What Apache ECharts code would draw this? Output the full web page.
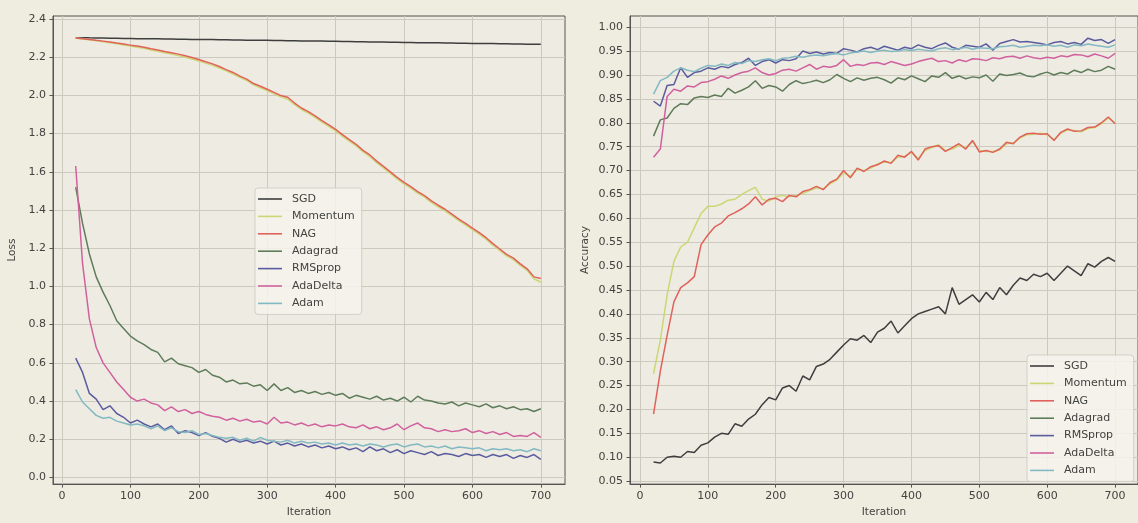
<!DOCTYPE html>
<html>
<head>
<meta charset="utf-8">
<script src="https://cdn.jsdelivr.net/npm/echarts@6/dist/echarts.min.js"></script>
<style>
  html, body { margin: 0; padding: 0; background: #efece0; }
  #chart { width: 1138px; height: 523px; }
</style>
</head>
<body>
<div id="chart"></div>
<script>
// Training iterations at which loss and accuracy were logged
const iterations = [
  20, 30, 40, 50, 60, 70, 80, 90, 100, 110,
  120, 130, 140, 150, 160, 170, 180, 190, 200, 210,
  220, 230, 240, 250, 260, 270, 280, 290, 300, 310,
  320, 330, 340, 350, 360, 370, 380, 390, 400, 410,
  420, 430, 440, 450, 460, 470, 480, 490, 500, 510,
  520, 530, 540, 550, 560, 570, 580, 590, 600, 610,
  620, 630, 640, 650, 660, 670, 680, 690, 700
];

const optimizers = ['SGD', 'Momentum', 'NAG', 'Adagrad', 'RMSprop', 'AdaDelta', 'Adam'];
const lineColors = ['#3e3e3e', '#cbd774', '#e0625a', '#5f7c5a', '#5a5c9e', '#d0619e', '#82b9c2'];

// ---- Loss ----
const lossSGD = [
  2.302, 2.301, 2.301, 2.300, 2.300, 2.299, 2.299, 2.298, 2.298, 2.297,
  2.297, 2.296, 2.296, 2.295, 2.295, 2.294, 2.294, 2.293, 2.293, 2.292,
  2.292, 2.291, 2.291, 2.290, 2.290, 2.289, 2.289, 2.288, 2.288, 2.287,
  2.287, 2.286, 2.286, 2.285, 2.285, 2.284, 2.284, 2.283, 2.283, 2.282,
  2.282, 2.281, 2.281, 2.280, 2.279, 2.279, 2.278, 2.278, 2.277, 2.277,
  2.276, 2.276, 2.275, 2.275, 2.274, 2.274, 2.273, 2.273, 2.272, 2.272,
  2.271, 2.271, 2.270, 2.270, 2.269, 2.269, 2.268, 2.268, 2.267
];
const lossMomentum = [
  2.300, 2.295, 2.291, 2.286, 2.281, 2.276, 2.270, 2.264, 2.258, 2.252,
  2.246, 2.238, 2.231, 2.223, 2.216, 2.208, 2.200, 2.190, 2.180, 2.169,
  2.157, 2.143, 2.128, 2.112, 2.094, 2.078, 2.055, 2.040, 2.025, 2.008,
  1.992, 1.980, 1.952, 1.926, 1.907, 1.885, 1.860, 1.838, 1.814, 1.787,
  1.760, 1.736, 1.705, 1.680, 1.648, 1.620, 1.592, 1.563, 1.537, 1.514,
  1.488, 1.467, 1.440, 1.417, 1.396, 1.370, 1.344, 1.322, 1.297, 1.274,
  1.247, 1.216, 1.188, 1.160, 1.140, 1.110, 1.084, 1.040, 1.022
];
const lossNAG = [
  2.300, 2.296, 2.293, 2.288, 2.284, 2.280, 2.274, 2.269, 2.263, 2.258,
  2.252, 2.244, 2.238, 2.230, 2.223, 2.216, 2.207, 2.198, 2.188, 2.176,
  2.165, 2.151, 2.135, 2.120, 2.101, 2.085, 2.062, 2.048, 2.032, 2.016,
  1.999, 1.990, 1.960, 1.934, 1.915, 1.893, 1.868, 1.846, 1.822, 1.795,
  1.768, 1.744, 1.712, 1.688, 1.656, 1.628, 1.600, 1.571, 1.545, 1.522,
  1.496, 1.475, 1.448, 1.425, 1.404, 1.378, 1.352, 1.330, 1.305, 1.282,
  1.255, 1.224, 1.196, 1.168, 1.148, 1.118, 1.092, 1.050, 1.042
];
const lossAdagrad = [
  1.520, 1.330, 1.170, 1.050, 0.970, 0.900, 0.820, 0.780, 0.740, 0.715,
  0.695, 0.670, 0.655, 0.605, 0.625, 0.595, 0.585, 0.575, 0.550, 0.565,
  0.535, 0.525, 0.500, 0.510, 0.490, 0.495, 0.478, 0.485, 0.455, 0.490,
  0.455, 0.470, 0.445, 0.455, 0.440, 0.450, 0.435, 0.445, 0.430, 0.440,
  0.415, 0.430, 0.420, 0.410, 0.425, 0.405, 0.415, 0.400, 0.420, 0.395,
  0.425, 0.405, 0.400, 0.390, 0.385, 0.395, 0.375, 0.390, 0.380, 0.370,
  0.385, 0.365, 0.375, 0.360, 0.370, 0.355, 0.360, 0.345, 0.360
];
const lossRMSprop = [
  0.625, 0.550, 0.440, 0.410, 0.355, 0.375, 0.335, 0.315, 0.285, 0.300,
  0.280, 0.265, 0.280, 0.250, 0.270, 0.230, 0.245, 0.235, 0.220, 0.235,
  0.215, 0.205, 0.185, 0.200, 0.185, 0.195, 0.180, 0.190, 0.175, 0.190,
  0.170, 0.180, 0.165, 0.175, 0.160, 0.170, 0.155, 0.165, 0.150, 0.160,
  0.145, 0.155, 0.135, 0.160, 0.140, 0.150, 0.130, 0.145, 0.125, 0.140,
  0.130, 0.120, 0.135, 0.115, 0.125, 0.120, 0.110, 0.125, 0.115, 0.120,
  0.105, 0.120, 0.110, 0.120, 0.100, 0.115, 0.105, 0.120, 0.095
];
const lossAdaDelta = [
  1.630, 1.120, 0.830, 0.680, 0.600, 0.550, 0.500, 0.460, 0.420, 0.400,
  0.410, 0.390, 0.380, 0.350, 0.370, 0.345, 0.355, 0.335, 0.345, 0.330,
  0.320, 0.315, 0.300, 0.310, 0.295, 0.305, 0.290, 0.295, 0.280, 0.315,
  0.285, 0.290, 0.275, 0.285, 0.270, 0.280, 0.265, 0.275, 0.270, 0.280,
  0.265, 0.260, 0.275, 0.255, 0.265, 0.250, 0.260, 0.280, 0.250, 0.270,
  0.285, 0.260, 0.255, 0.240, 0.250, 0.240, 0.245, 0.255, 0.235, 0.245,
  0.230, 0.240, 0.225, 0.235, 0.215, 0.220, 0.215, 0.235, 0.210
];
const lossAdam = [
  0.460, 0.395, 0.360, 0.325, 0.310, 0.315, 0.295, 0.285, 0.275, 0.280,
  0.270, 0.255, 0.270, 0.245, 0.260, 0.240, 0.235, 0.245, 0.225, 0.230,
  0.220, 0.210, 0.205, 0.210, 0.195, 0.205, 0.190, 0.210, 0.195, 0.190,
  0.185, 0.195, 0.180, 0.190, 0.180, 0.185, 0.175, 0.180, 0.170, 0.180,
  0.170, 0.175, 0.165, 0.175, 0.170, 0.160, 0.170, 0.175, 0.160, 0.170,
  0.175, 0.160, 0.165, 0.155, 0.165, 0.150, 0.160, 0.155, 0.150, 0.155,
  0.140, 0.150, 0.145, 0.150, 0.140, 0.145, 0.135, 0.150, 0.140
];

// ---- Accuracy ----
const accSGD = [
  0.090, 0.088, 0.100, 0.102, 0.100, 0.112, 0.110, 0.125, 0.130, 0.142,
  0.150, 0.148, 0.170, 0.165, 0.180, 0.190, 0.210, 0.225, 0.220, 0.245,
  0.250, 0.238, 0.270, 0.262, 0.290, 0.295, 0.305, 0.320, 0.335, 0.348,
  0.345, 0.355, 0.340, 0.362, 0.370, 0.385, 0.360, 0.375, 0.390, 0.400,
  0.405, 0.410, 0.415, 0.400, 0.455, 0.420, 0.430, 0.440, 0.425, 0.445,
  0.430, 0.455, 0.440, 0.460, 0.475, 0.470, 0.483, 0.478, 0.485, 0.470,
  0.485, 0.500, 0.490, 0.480, 0.505, 0.498, 0.510, 0.518, 0.510
];
const accMomentum = [
  0.275, 0.345, 0.440, 0.510, 0.540, 0.550, 0.580, 0.610, 0.625, 0.625,
  0.630, 0.638, 0.640, 0.650, 0.658, 0.665, 0.640, 0.636, 0.645, 0.648,
  0.645, 0.648, 0.652, 0.658, 0.664, 0.662, 0.672, 0.680, 0.695, 0.688,
  0.702, 0.700, 0.705, 0.714, 0.718, 0.717, 0.728, 0.730, 0.738, 0.725,
  0.742, 0.748, 0.754, 0.742, 0.745, 0.752, 0.748, 0.760, 0.742, 0.740,
  0.740, 0.743, 0.756, 0.758, 0.768, 0.775, 0.776, 0.778, 0.775, 0.765,
  0.778, 0.785, 0.784, 0.781, 0.788, 0.790, 0.798, 0.810, 0.800
];
const accNAG = [
  0.190, 0.280, 0.355, 0.425, 0.455, 0.465, 0.478, 0.545, 0.565, 0.582,
  0.590, 0.605, 0.612, 0.620, 0.630, 0.645, 0.628, 0.640, 0.642, 0.635,
  0.648, 0.645, 0.656, 0.660, 0.667, 0.660, 0.675, 0.682, 0.700, 0.685,
  0.705, 0.698, 0.708, 0.712, 0.720, 0.715, 0.732, 0.728, 0.740, 0.722,
  0.745, 0.750, 0.752, 0.740, 0.748, 0.756, 0.745, 0.763, 0.739, 0.742,
  0.738, 0.745, 0.759, 0.756, 0.770, 0.777, 0.778, 0.776, 0.777, 0.763,
  0.780, 0.787, 0.782, 0.783, 0.790, 0.791, 0.800, 0.812, 0.798
];
const accAdagrad = [
  0.772, 0.806, 0.810, 0.830, 0.840, 0.838, 0.852, 0.855, 0.853, 0.858,
  0.855, 0.872, 0.862, 0.868, 0.875, 0.888, 0.872, 0.878, 0.875, 0.866,
  0.880, 0.888, 0.882, 0.885, 0.889, 0.884, 0.890, 0.901, 0.893, 0.886,
  0.894, 0.889, 0.893, 0.895, 0.890, 0.883, 0.894, 0.890, 0.898, 0.892,
  0.886, 0.898, 0.895, 0.905, 0.893, 0.898, 0.892, 0.896, 0.894, 0.900,
  0.887, 0.902, 0.899, 0.901, 0.904, 0.898, 0.896, 0.902, 0.906, 0.900,
  0.905, 0.902, 0.910, 0.905, 0.912, 0.907, 0.910, 0.918, 0.912
];
const accRMSprop = [
  0.845, 0.835, 0.878, 0.880, 0.915, 0.895, 0.905, 0.908, 0.915, 0.912,
  0.918, 0.915, 0.922, 0.926, 0.935, 0.920, 0.928, 0.932, 0.925, 0.932,
  0.930, 0.934, 0.950, 0.945, 0.948, 0.944, 0.947, 0.945, 0.955, 0.952,
  0.948, 0.955, 0.958, 0.953, 0.960, 0.956, 0.952, 0.958, 0.955, 0.963,
  0.958, 0.955, 0.962, 0.967, 0.958, 0.954, 0.962, 0.960, 0.958, 0.965,
  0.952, 0.966, 0.970, 0.974, 0.969, 0.970, 0.968, 0.966, 0.963, 0.968,
  0.970, 0.965, 0.968, 0.964, 0.977, 0.972, 0.974, 0.966, 0.974
];
const accAdaDelta = [
  0.728, 0.745, 0.855, 0.870, 0.866, 0.877, 0.875, 0.884, 0.886, 0.891,
  0.898, 0.893, 0.900, 0.905, 0.908, 0.915, 0.905, 0.900, 0.903, 0.910,
  0.912, 0.908, 0.915, 0.922, 0.912, 0.918, 0.916, 0.920, 0.932, 0.918,
  0.922, 0.920, 0.925, 0.926, 0.922, 0.928, 0.924, 0.920, 0.923, 0.928,
  0.932, 0.935, 0.928, 0.930, 0.925, 0.932, 0.928, 0.934, 0.933, 0.930,
  0.936, 0.934, 0.938, 0.939, 0.935, 0.940, 0.936, 0.934, 0.937, 0.935,
  0.940, 0.938, 0.943, 0.942, 0.938, 0.944, 0.940, 0.935, 0.945
];
const accAdam = [
  0.860, 0.888, 0.895, 0.908, 0.915, 0.910, 0.907, 0.914, 0.920, 0.918,
  0.923, 0.920, 0.926, 0.924, 0.930, 0.928, 0.932, 0.934, 0.930, 0.935,
  0.936, 0.939, 0.937, 0.940, 0.942, 0.940, 0.943, 0.945, 0.942, 0.946,
  0.948, 0.950, 0.947, 0.950, 0.952, 0.949, 0.950, 0.953, 0.951, 0.954,
  0.952, 0.950, 0.955, 0.957, 0.953, 0.955, 0.958, 0.954, 0.957, 0.956,
  0.955, 0.959, 0.960, 0.962, 0.958, 0.960, 0.962, 0.961, 0.963, 0.960,
  0.962, 0.958, 0.963, 0.961, 0.965, 0.962, 0.960, 0.958, 0.963
];

// Tick labels
const iterationTicks = [0, 100, 200, 300, 400, 500, 600, 700];
const lossTicks = [0.0, 0.2, 0.4, 0.6, 0.8, 1.0, 1.2, 1.4, 1.6, 1.8, 2.0, 2.2, 2.4];
const accuracyTicks = [0.05, 0.10, 0.15, 0.20, 0.25, 0.30, 0.35, 0.40, 0.45, 0.50,
  0.55, 0.60, 0.65, 0.70, 0.75, 0.80, 0.85, 0.90, 0.95, 1.00];

const lossSeries = [lossSGD, lossMomentum, lossNAG, lossAdagrad, lossRMSprop, lossAdaDelta, lossAdam];
const accSeries = [accSGD, accMomentum, accNAG, accAdagrad, accRMSprop, accAdaDelta, accAdam];

const FONT = 'DejaVu Sans';
const textColor = '#424240';
const gridColor = '#ccc9bf';
const frameColor = '#555553';

function pairs(values) {
  return iterations.map((it, i) => [it, values[i]]);
}

function xAxisFor(gridIndex, min, max) {
  return {
    type: 'value', gridIndex, min, max,
    name: 'Iteration', nameLocation: 'middle', nameGap: 22,
    nameTextStyle: { color: textColor, fontFamily: FONT, fontSize: 10.5 },
    axisLine: { show: true, onZero: false, lineStyle: { color: frameColor, width: 1 } },
    axisTick: { show: true, length: 3.5, inside: false, customValues: iterationTicks, lineStyle: { color: frameColor } },
    axisLabel: { customValues: iterationTicks, color: textColor, fontFamily: FONT, fontSize: 11, margin: 7 },
    splitLine: { show: true, lineStyle: { color: gridColor, width: 1 } }
  };
}

function yAxisFor(gridIndex, min, max, ticks, digits, name, gap) {
  return {
    type: 'value', gridIndex, min, max,
    name, nameLocation: 'middle', nameGap: gap, nameRotate: 90,
    nameTextStyle: { color: textColor, fontFamily: FONT, fontSize: 10.5 },
    axisLine: { show: true, onZero: false, lineStyle: { color: frameColor, width: 1 } },
    axisTick: { show: true, length: 3.5, inside: false, customValues: ticks, lineStyle: { color: frameColor } },
    axisLabel: {
      customValues: ticks, color: textColor, fontFamily: FONT, fontSize: 11, margin: 7,
      formatter: v => Number(v).toFixed(digits)
    },
    splitLine: { show: true, lineStyle: { color: gridColor, width: 1 } }
  };
}

function legendFor(left, top) {
  return {
    data: optimizers, orient: 'vertical', left, top,
    icon: 'rect', itemWidth: 24, itemHeight: 1.6, itemGap: 3.4,
    padding: [4, 7, 4, 3],
    backgroundColor: 'rgba(244,243,236,0.85)',
    borderColor: '#d2cfc6', borderWidth: 1, borderRadius: 3,
    textStyle: { color: textColor, fontFamily: FONT, fontSize: 11, lineHeight: 14, padding: [0, 0, 0, 5] },
    selectedMode: false
  };
}

const series = [];
optimizers.forEach((name, k) => {
  series.push({
    name, type: 'line', xAxisIndex: 0, yAxisIndex: 0,
    data: pairs(lossSeries[k]), showSymbol: false, symbol: 'none',
    lineStyle: { color: lineColors[k], width: 1.5 }, itemStyle: { color: lineColors[k] },
    z: 2 + k, animation: false
  });
});
optimizers.forEach((name, k) => {
  series.push({
    name, type: 'line', xAxisIndex: 1, yAxisIndex: 1,
    data: pairs(accSeries[k]), showSymbol: false, symbol: 'none',
    lineStyle: { color: lineColors[k], width: 1.5 }, itemStyle: { color: lineColors[k] },
    z: 2 + k, animation: false
  });
});

const chart = echarts.init(document.getElementById('chart'), null, { renderer: 'canvas' });
chart.setOption({
  backgroundColor: '#efece0',
  animation: false,
  grid: [
    { left: 53, top: 16, width: 512, height: 473, show: true, backgroundColor: '#eeebe2', borderColor: frameColor, borderWidth: 1 },
    { left: 630, top: 16, width: 509, height: 473, show: true, backgroundColor: '#eeebe2', borderColor: frameColor, borderWidth: 1 }
  ],
  xAxis: [xAxisFor(0, -13.2, 735.4), xAxisFor(1, -14.7, 733.8)],
  yAxis: [
    yAxisFor(0, -0.0347, 2.4155, lossTicks, 1, 'Loss', 35),
    yAxisFor(1, 0.0438, 1.0234, accuracyTicks, 2, 'Accuracy', 39)
  ],
  legend: [legendFor(255, 188), legendFor(1027, 355)],
  series
});
</script>
</body>
</html>
